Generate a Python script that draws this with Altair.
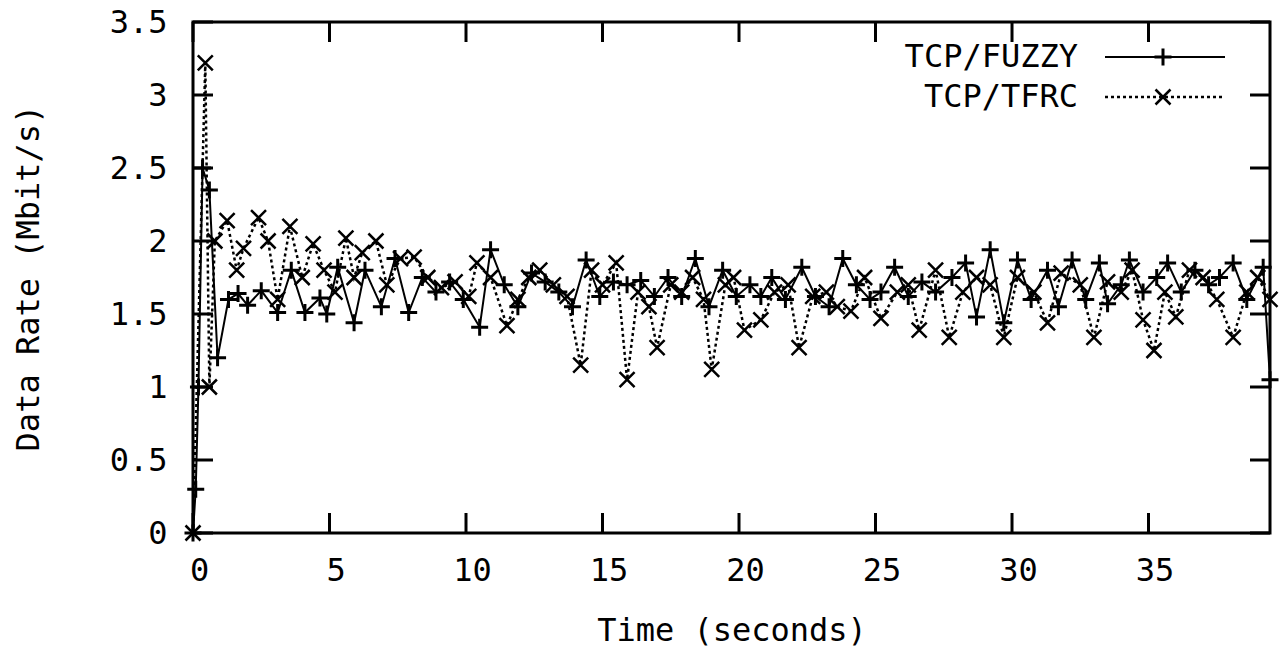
import altair as alt
import pandas as pd

# ---------------- data ----------------
series_names = ["TCP/FUZZY", "TCP/TFRC"]

fuzzy_t = [0.0, 0.1, 0.2, 0.35, 0.6, 0.9, 1.3, 1.65, 2.0, 2.5, 3.1, 3.6, 4.1, 4.65, 4.9,
           5.3, 5.9, 6.3, 6.9, 7.4, 7.9, 8.4, 8.9, 9.4, 9.9, 10.5, 10.9, 11.4, 11.9,
           12.4, 12.9, 13.4, 13.9, 14.4, 14.9, 15.4, 15.9, 16.4, 16.9, 17.4, 17.9,
           18.4, 18.9, 19.4, 19.9, 20.4, 20.8, 21.2, 21.7, 22.3, 22.8, 23.3, 23.8,
           24.3, 24.8, 25.2, 25.7, 26.2, 26.7, 27.2, 27.8, 28.3, 28.7, 29.2, 29.7,
           30.2, 30.7, 31.3, 31.7, 32.2, 32.7, 33.2, 33.5, 34.0, 34.3, 34.8, 35.3,
           35.7, 36.2, 36.7, 37.2, 37.6, 38.1, 38.6, 39.2, 39.45]
fuzzy_v = [0.0, 0.3, 1.0, 2.5, 2.35, 1.2, 1.6, 1.64, 1.56, 1.66, 1.51, 1.8, 1.51, 1.61, 1.5,
           1.82, 1.44, 1.8, 1.55, 1.88, 1.51, 1.75, 1.65, 1.72, 1.6, 1.41, 1.94, 1.7, 1.55,
           1.78, 1.72, 1.65, 1.55, 1.87, 1.62, 1.72, 1.7, 1.73, 1.62, 1.75, 1.62,
           1.88, 1.55, 1.8, 1.62, 1.7, 1.62, 1.75, 1.6, 1.82, 1.62, 1.55, 1.88,
           1.7, 1.6, 1.65, 1.82, 1.62, 1.72, 1.65, 1.75, 1.85, 1.48, 1.94, 1.44,
           1.87, 1.6, 1.8, 1.55, 1.87, 1.6, 1.85, 1.57, 1.7, 1.87, 1.65, 1.75,
           1.85, 1.65, 1.8, 1.7, 1.75, 1.85, 1.6, 1.82, 1.05]

tfrc_t = [0.0, 0.45, 0.6, 0.8, 1.25, 1.6, 1.85, 2.4, 2.75, 3.1, 3.55, 4.0, 4.4, 4.8, 5.2,
          5.6, 5.9, 6.2, 6.7, 7.1, 7.6, 8.1, 8.6, 9.1, 9.6, 10.1, 10.4, 10.9, 11.5,
          11.9, 12.3, 12.7, 13.2, 13.7, 14.2, 14.6, 15.0, 15.5, 15.9, 16.3, 16.7,
          17.0, 17.5, 17.9, 18.3, 18.7, 19.0, 19.5, 19.8, 20.2, 20.8, 21.3, 21.8,
          22.2, 22.7, 23.2, 23.6, 24.1, 24.6, 25.2, 25.8, 26.2, 26.6, 27.2, 27.7,
          28.2, 28.7, 29.2, 29.7, 30.2, 30.8, 31.3, 31.8, 32.5, 33.0, 33.5, 34.0,
          34.4, 34.8, 35.2, 35.6, 36.0, 36.5, 37.0, 37.5, 38.1, 38.6, 39.0, 39.45]
tfrc_v = [0.0, 3.22, 1.0, 2.0, 2.14, 1.8, 1.95, 2.16, 2.0, 1.6, 2.1, 1.75, 1.98, 1.8, 1.65,
          2.02, 1.75, 1.92, 2.0, 1.7, 1.88, 1.89, 1.75, 1.68, 1.72, 1.62, 1.85, 1.75, 1.42,
          1.6, 1.75, 1.8, 1.7, 1.62, 1.15, 1.8, 1.7, 1.85, 1.05, 1.65, 1.55,
          1.27, 1.7, 1.65, 1.75, 1.6, 1.12, 1.7, 1.75, 1.39, 1.46, 1.65, 1.7,
          1.27, 1.62, 1.65, 1.55, 1.52, 1.75, 1.47, 1.65, 1.7, 1.39, 1.8, 1.34,
          1.65, 1.75, 1.7, 1.34, 1.75, 1.65, 1.44, 1.78, 1.7, 1.34, 1.72, 1.65,
          1.8, 1.46, 1.25, 1.65, 1.48, 1.8, 1.75, 1.6, 1.34, 1.65, 1.75, 1.6]

x_ticks = [0, 5, 10, 15, 20, 25, 30, 35]
y_ticks = [0, 0.5, 1, 1.5, 2, 2.5, 3, 3.5]
x_domain = [0, 39.45]
y_domain = [0, 3.5]

# ---------------- style ----------------
W, H = 1077, 511
FONT = "DejaVu Sans Mono"
FS = 32
TICK = 20
PLUS = "M-1,0L1,0M0,-1L0,1"
CROSS = "M-1,-1L1,1M1,-1L-1,1"

fuzzy = pd.DataFrame({"t": fuzzy_t, "v": fuzzy_v})
tfrc = pd.DataFrame({"t": tfrc_t, "v": tfrc_v})
xt = pd.DataFrame({"t": x_ticks})
yt = pd.DataFrame({"v": y_ticks})

xs = alt.Scale(domain=x_domain, nice=False, zero=False)
ys = alt.Scale(domain=y_domain, nice=False)

x_axis = alt.Axis(values=x_ticks, title="Time (seconds)", grid=False, domain=False,
                  ticks=False, tickSize=0, labelFont=FONT, labelFontSize=FS,
                  labelPadding=22, labelOffset=6, labelColor="black", labelFlush=False,
                  titleFont=FONT, titleFontSize=FS, titleFontWeight="normal",
                  titleColor="black", titleX=W / 2, titleY=97, titleBaseline="middle",
                  titleAlign="center")
y_axis = alt.Axis(values=y_ticks, title="Data Rate (Mbit/s)", grid=False, domain=False,
                  ticks=False, tickSize=0, format="~g", labelFont=FONT, labelFontSize=FS,
                  labelPadding=26, labelColor="black", labelFlush=False,
                  titleFont=FONT, titleFontSize=FS, titleFontWeight="normal",
                  titleColor="black", titleX=-165, titleY=H / 2, titleBaseline="middle",
                  titleAlign="center")

X = alt.X("t:Q", scale=xs, axis=x_axis)
Y = alt.Y("v:Q", scale=ys, axis=y_axis)

fuzzy_line = alt.Chart(fuzzy).mark_line(color="black", strokeWidth=2).encode(x=X, y=Y)
fuzzy_pts = alt.Chart(fuzzy).mark_point(shape=PLUS, size=289, strokeWidth=3, color="black",
                                        filled=False, opacity=1).encode(x=X, y=Y)
tfrc_line = alt.Chart(tfrc).mark_line(color="black", strokeWidth=2.5,
                                      strokeDash=[3, 3]).encode(x=X, y=Y)
tfrc_pts = alt.Chart(tfrc).mark_point(shape=CROSS, size=225, strokeWidth=2.5, color="black",
                                      filled=False, opacity=1).encode(x=X, y=Y)

# inward ticks on all four sides (gnuplot style)
tick_style = dict(color="black", strokeWidth=3)
xb = alt.Chart(xt).mark_rule(**tick_style).encode(x=X, y=alt.value(H), y2=alt.value(H - TICK))
xtop = alt.Chart(xt).mark_rule(**tick_style).encode(x=X, y=alt.value(0), y2=alt.value(TICK))
yl = alt.Chart(yt).mark_rule(**tick_style).encode(y=Y, x=alt.value(0), x2=alt.value(TICK))
yr = alt.Chart(yt).mark_rule(**tick_style).encode(y=Y, x=alt.value(W), x2=alt.value(W - TICK))

# legend (top-right, inside plot)
leg_layers = []
leg_rows = [35, 75]
for i, name in enumerate(series_names):
    d = pd.DataFrame({"label": [name]})
    yrow = leg_rows[i]
    leg_layers.append(
        alt.Chart(d).mark_text(align="right", baseline="middle", font=FONT, fontSize=FS,
                               color="black")
        .encode(text="label:N", x=alt.value(885), y=alt.value(yrow)))
    if i == 0:
        leg_layers.append(alt.Chart(d).mark_rule(color="black", strokeWidth=2)
                          .encode(x=alt.value(912), x2=alt.value(1032), y=alt.value(yrow)))
        leg_layers.append(alt.Chart(d).mark_point(shape=PLUS, size=289, strokeWidth=3,
                                                  color="black", filled=False, opacity=1)
                          .encode(x=alt.value(970), y=alt.value(yrow)))
    else:
        leg_layers.append(alt.Chart(d).mark_rule(color="black", strokeWidth=2.5,
                                                 strokeDash=[3, 3])
                          .encode(x=alt.value(912), x2=alt.value(1032), y=alt.value(yrow)))
        leg_layers.append(alt.Chart(d).mark_point(shape=CROSS, size=225, strokeWidth=2.5,
                                                  color="black", filled=False, opacity=1)
                          .encode(x=alt.value(970), y=alt.value(yrow)))

chart = alt.layer(tfrc_line, fuzzy_line, tfrc_pts, fuzzy_pts, xb, xtop, yl, yr,
                  *leg_layers).properties(
    width=W, height=H,
    autosize=alt.AutoSizeParams(type="none"),
    padding={"left": 193, "top": 22, "right": 13, "bottom": 117},
    background="white",
).configure_view(stroke="black", strokeWidth=3)

chart.save("out.html", embed_options={"renderer": "svg", "actions": False})
